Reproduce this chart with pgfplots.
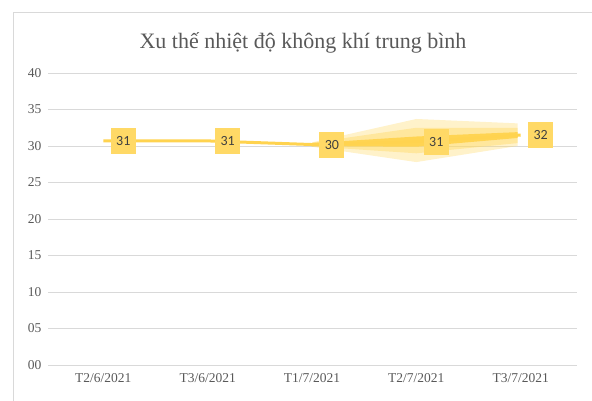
\documentclass[border=0pt]{standalone}
\usepackage{pgfplots}
\pgfplotsset{compat=1.18}
\usepackage{fontspec}
\setmainfont{Liberation Serif}
\newfontfamily\calibri{Carlito}
\definecolor{gold}{HTML}{FFD966}
\definecolor{goldd}{HTML}{FFD34F}
\definecolor{gridc}{HTML}{D9D9D9}
\definecolor{txt}{HTML}{595959}
\begin{document}
\begin{tikzpicture}[x=1pt,y=1pt]
\useasboundingbox (0,0) rectangle (592,400);
\draw[gridc, line width=1pt] (13,-5) rectangle (600,387);
\node[anchor=base, text=txt, font=\fontsize{22}{25}\selectfont] at (303,351) {Xu thế nhiệt độ không khí trung bình};
\begin{axis}[
  at={(48pt,35pt)}, anchor=south west,
  scale only axis, width=529pt, height=292pt,
  xmin=-0.53, xmax=4.54, ymin=0, ymax=40,
  xtick={0,1,2,3,4},
  xticklabels={T2/6/2021,T3/6/2021,T1/7/2021,T2/7/2021,T3/7/2021},
  ytick={0,5,10,15,20,25,30,35,40},
  yticklabels={00,05,10,15,20,25,30,35,40},
  axis line style={draw=none},
  major tick length=0pt,
  ymajorgrids, major grid style={gridc, line width=0.8pt},
  ticklabel style={text=txt, font=\fontsize{13.5}{15}\selectfont},
  xticklabel style={yshift=-5pt},
  yticklabel style={xshift=-3pt},
  clip=false,
]
% glow layers
\addplot[draw=none, fill=gold, fill opacity=0.35] coordinates {(2,30.5) (3,33.7) (3.97,33.1) (3.97,30.0) (3,27.8) (2,29.9)} -- cycle;
\addplot[draw=none, fill=gold, fill opacity=0.45] coordinates {(2,30.45) (3,32.5) (3.97,32.5) (3.97,30.4) (3,29.0) (2,29.95)} -- cycle;
\addplot[draw=none, fill=goldd, fill opacity=0.95] coordinates {(2,30.4) (3,31.3) (3.97,31.9) (3.97,31.1) (3,29.9) (2,30.0)} -- cycle;
\addplot[goldd, line width=3pt, mark=none,
  nodes near coords, point meta=explicit symbolic,
  every node near coord/.style={anchor=west, xshift=6pt, fill=gold, text=black!75,
     minimum width=25pt, minimum height=26pt, inner sep=0pt,
     font=\calibri\fontsize{14}{16}\selectfont}]
  coordinates {(0,30.7)[31] (1,30.7)[31] (2,30.2)[30] (3,30.6)[31] (4,31.5)[32]};
\end{axis}
\end{tikzpicture}
\end{document}
